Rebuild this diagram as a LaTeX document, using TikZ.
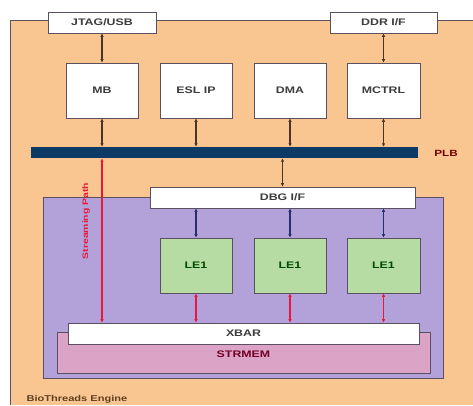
\documentclass[tikz,border=0pt]{standalone}
\usepackage{fontspec}
\setmainfont{Liberation Sans}
\newfontfamily\widefont[FakeStretch=1.3]{Liberation Sans}
\usetikzlibrary{arrows.meta}
\definecolor{bgorange}{HTML}{F9C691}
\definecolor{purp}{HTML}{B3A2D9}
\definecolor{lgreen}{HTML}{B6DCA4}
\definecolor{pinkm}{HTML}{DBA3C6}
\definecolor{navy}{HTML}{0D3B66}
\definecolor{edge}{HTML}{5A5060}
\definecolor{txt}{HTML}{3C3C3C}
\definecolor{brownarr}{HTML}{4A3428}
\definecolor{bluearr}{HTML}{24306A}
\definecolor{redarr}{HTML}{E8183A}
\tikzset{
  blk/.style={draw=edge, line width=0.8pt, fill=white, inner sep=0pt, text=txt,
    font=\widefont\bfseries\fontsize{9.5}{10}\selectfont},
  lebox/.style={blk, fill=lgreen, text={green!30!black}},
  bus/.style={line width=1.2pt, {Latex[length=3.5pt,width=3.5pt]}-{Latex[length=3.5pt,width=3.5pt]}},
  darrow/.style={bus, draw=brownarr, color=brownarr},
  barrow/.style={bus, draw=bluearr, color=bluearr},
  rarrow/.style={bus, draw=redarr, color=redarr},
}
\begin{document}
\begin{tikzpicture}[x=1pt,y=-1pt]
\useasboundingbox (0,0) rectangle (473,405);
\fill[white] (0,0) rectangle (473,405);
% outer engine
\fill[bgorange] (10,20) rectangle (473,405);
\draw[edge, line width=0.8pt] (473,20) -- (10,20) -- (10,405);
% purple cluster
\draw[edge, line width=0.8pt, fill=purp] (43,197) rectangle (443,378);
% STRMEM
\node[blk, fill=pinkm, minimum width=373pt, minimum height=41pt] (strmem) at (243.5,352.5) {};
\node[text={purple!60!black}, font=\widefont\bfseries\fontsize{9.5}{10}\selectfont] (strmemlbl) at (243.5,354) {STRMEM};
% XBAR
\node[blk, minimum width=351pt, minimum height=21pt] (xbar) at (243.5,333.5) {XBAR};
% DBG I/F
\node[blk, minimum width=265pt, minimum height=21pt] (dbg) at (282.5,197.5) {DBG I/F};
% top interface boxes
\node[blk, minimum width=108pt, minimum height=21pt] (jtag) at (102,22.5) {JTAG/USB};
\node[blk, minimum width=107pt, minimum height=21pt] (ddr) at (383.5,22.5) {DDR I/F};
% top modules
\node[blk, minimum width=72pt, minimum height=55pt] (mb) at (102,90.5) {MB};
\node[blk, minimum width=72pt, minimum height=55pt] (esl) at (196,90.5) {ESL IP};
\node[blk, minimum width=72pt, minimum height=55pt] (dma) at (290,90.5) {DMA};
\node[blk, minimum width=73pt, minimum height=55pt] (mctrl) at (383.5,90.5) {MCTRL};
% PLB bus
\node[fill=navy, minimum width=387pt, minimum height=11pt, inner sep=0pt] (plb) at (224.5,152.5) {};
\node[text={red!45!black}, font=\widefont\bfseries\fontsize{9}{10}\selectfont] (plblbl) at (446,153) {PLB};
% LE1 engines
\node[lebox, minimum width=72pt, minimum height=55pt] (le1) at (196,265.5) {LE1};
\node[lebox, minimum width=72pt, minimum height=55pt] (le2) at (290,265.5) {LE1};
\node[lebox, minimum width=73pt, minimum height=55pt] (le3) at (383.5,265.5) {LE1};
% connectors
\draw[darrow] (jtag) -- (mb);
\draw[darrow] (ddr) -- (mctrl);
\draw[darrow] (mb.south) -- (mb.south |- plb.north);
\draw[darrow] (esl.south) -- (esl.south |- plb.north);
\draw[darrow] (dma.south) -- (dma.south |- plb.north);
\draw[darrow] (mctrl.south) -- (mctrl.south |- plb.north);
\draw[darrow] (dbg.north) -- (dbg.north |- plb.south);
\draw[barrow] (le1.north |- dbg.south) -- (le1.north);
\draw[barrow] (le2.north |- dbg.south) -- (le2.north);
\draw[barrow] (le3.north |- dbg.south) -- (le3.north);
\draw[rarrow] (le1.south) -- (le1.south |- xbar.north);
\draw[rarrow] (le2.south) -- (le2.south |- xbar.north);
\draw[rarrow] (le3.south) -- (le3.south |- xbar.north);
\draw[rarrow] (mb.south |- plb.south) -- (mb.south |- xbar.north);
\node[rotate=90, text=redarr, font=\widefont\bfseries\fontsize{8}{9}\selectfont] (spath) at (86,221) {Streaming Path};
% engine label
\node[anchor=west, text={brown!50!black}, font=\widefont\bfseries\fontsize{8.5}{9}\selectfont] (eng) at (23,399) {BioThreads Engine};
\end{tikzpicture}
\end{document}
